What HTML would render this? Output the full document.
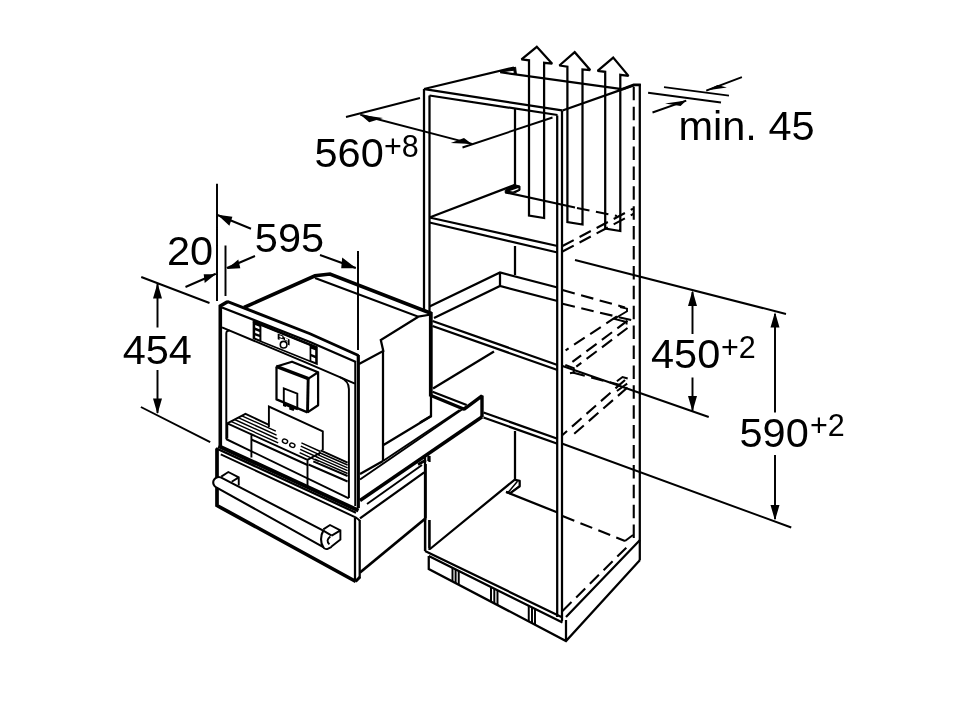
<!DOCTYPE html>
<html><head><meta charset="utf-8">
<style>
html,body{margin:0;padding:0;background:#fff;}
body{width:960px;height:703px;overflow:hidden;}
svg{display:block;will-change:transform;}
.a{fill:none;stroke:#000;stroke-width:1.95;stroke-linecap:butt;stroke-linejoin:miter}
.n{fill:none;stroke:#000;stroke-width:2.25;stroke-linejoin:miter}
.m{fill:none;stroke:#000;stroke-width:2.5;stroke-linejoin:miter}
.k{fill:none;stroke:#000;stroke-width:3.2;stroke-linejoin:miter}
.d{fill:none;stroke:#000;stroke-width:2.1;stroke-dasharray:12.7 6.6}
.f{fill:#000;stroke:none}
text{font-family:"Liberation Sans",sans-serif;fill:#000}
.T{font-size:41.5px}
.S{font-size:30.5px}
</style></head><body>
<svg width="960" height="703" viewBox="0 0 960 703">
<rect width="960" height="703" fill="#fff"/>

<!-- ===== CABINET ===== -->
<g id="cab">
<!-- top face -->
<path class="n" d="M424.4,89.1 L562,110.4 M429.5,95.5 L557.5,115 M424,89 L514,67.5 M500.2,72.2 L622,89.2 M562.5,110.5 L633.7,85.4"/>
<path d="M500,72 L515.6,67.2 L516.4,74.2 L514.2,74 L514,70.2 Z" style="fill:#000;stroke:#000;stroke-width:1"/>
<!-- left verticals upper -->
<path class="n" d="M424,89 V310 M429.5,95.5 V312"/>
<!-- right front verticals -->
<path class="n" d="M557.2,115.5 V616.9 M562,110.4 V621"/>
<!-- right panel -->
<path class="n" d="M639.8,84 V560"/>
<path class="k" d="M622,89.3 L633.7,84.9 L640.8,84.9" style="stroke-width:2.6"/>
<path class="d" d="M633.75,86.8 V541" style="stroke-dasharray:13.5 6.4"/>
<!-- back inner vertical -->
<path class="n" d="M515,109 V185 M515,246 V275 M515,431 V480"/>
<!-- shelf 1 -->
<path class="n" d="M429.5,217.5 L514.5,185.1 M505.4,192.3 L575,207.5 M429.5,217.5 L557.5,246 M429.5,222.5 L557.5,252.5"/>
<path d="M514.3,184.6 L520,186.1 V190.3 L515,192.8 L505.2,192.8 V190.2 Z" style="fill:#000;stroke:#000;stroke-width:1"/><path d="M509.8,191 L518.4,187.9 V189.2 L513,191.6 Z" fill="#fff"/>
<path class="d" d="M577,208 L617,216"/>
<path class="d" d="M562.5,246 L633,208.75 M562.5,251.5 L633.75,213.75"/>
<!-- tray shelf -->
<path class="n" d="M429.5,306.5 L500,272.5 L557.5,287.5 M434,318 L500,286 L557.5,301 M500,272.5 V286"/>
<path class="d" d="M562.5,290 L625,307.5 M562.5,303.75 L635,321"/>
<path class="d" d="M616.9,316.4 L565.6,350.3 M627.5,320.7 L572.4,361.9 M627.5,328 L576.3,366.7"/>
<path class="n" d="M620,307 L627,308.7 V311.3 L614.4,318.8 L626.6,322 V324.6" style="stroke-width:1.9"/>
<!-- shelf 2 -->
<path class="n" d="M432.5,321 L557.5,365 M432.5,326 L557.5,370"/>
<path class="d" d="M572.5,372.5 L620,385"/>
<path class="d" d="M625,380 L562.5,435 M627.5,387.5 L570,437.5"/>
<path class="a" d="M565.3,365 L573.8,368.2 V372.4 L570,373.3 M616.9,381.3 L622.5,377 L627.7,378.5 M616.9,391 L627.2,383.6"/>
<!-- shelf 3 -->
<path class="n" d="M433,388.5 L494,351.5"/>
<path class="n" d="M432.5,391.7 L466.7,405"/>
<path class="k" d="M431,395.5 L464.2,409.2 L482,395.8 V417" style="stroke-linejoin:bevel;stroke-width:3.4"/>
<path class="n" d="M483.5,412.5 L557.5,438.75 M483.5,417.5 L557.5,443.75"/>
<path class="a" d="M508.3,492.3 L517.5,481.2 M510,493.2 L519.6,485.8" style="stroke-width:1.5"/><path class="n" d="M514,479.7 L519.7,480.9 V486.3 L510,493.3 L506,491.9" style="stroke-linejoin:round"/>
<!-- bottom -->
<path class="n" d="M430,549 L514.5,479.8 M506.2,492 L557.5,512.5 M425,551 L562.5,617.5 M428.75,556 L562.5,622.5 M566,617 L640,540"/>
<path class="d" d="M562.5,516 L625,541 M562.5,611 L630,544"/>
<path class="a" d="M625,541 L633,535"/>
<!-- left lower verticals -->
<path class="n" d="M425,457 V551 M429.5,456 V462 M429.5,520 V550"/>
<!-- plinth -->
<path class="n" d="M428.75,556 V569 L566,641 L640,560 M566,620 V641"/>
<path class="a" d="M452.5,568 V581.5 M455.6,569.5 V583 M458.75,571 V584.7 M491,587 V601.7 M494.3,588.7 V603.4 M497.5,590.3 V605 M528.75,605.8 V621.5 M532,607.4 V623.2 M535,609 V624.8"/>
</g>

<!-- ===== AIR ARROWS ===== -->
<g id="air" style="stroke-miterlimit:2">
<path class="n" d="M529,215.5 V60.3 L521.5,59.4 L536.8,46.8 L552.2,63.7 L544.1,62.8 V218 Z"/>
<path class="n" d="M567.4,222 V66.7 L559.4,65.5 L574.7,52.2 L590.2,70.1 L582.5,69.4 V224.5 Z"/>
<path class="n" d="M605.2,228.5 V71.85 L597.6,70.9 L613.2,57.6 L628.5,75.9 L620.3,74.8 V231 Z"/>
</g>

<!-- ===== DIMENSIONS ===== -->
<g id="dims">
<!-- 560 -->
<path class="a" d="M346,117 L420,98 M462.5,147.5 L552.5,117.5 M360.4,114.7 L472,143.9"/>
<path class="f" d="M360.4,114.7 L383,118 L369.2,122.3 Z M472,143.9 L450.8,143.1 L464,138 Z"/>
<!-- min 45 -->
<path class="a" d="M648.1,92.75 L721,102.5 M664,87.1 L729,95.6 M741.9,77.1 L706.25,90.6 M652.5,112.5 L686.25,100.6"/>
<path class="f" d="M706.25,90.6 L717.5,85 L726.9,87.5 Z M686.25,100.6 L665,103.5 L680.6,106 Z"/>
<!-- 450 -->
<path class="a" d="M575,260 L786,314 M562.5,366 L708.75,417 M692.5,292 V334 M692.5,377.5 V410.5"/>
<path class="f" d="M692.5,290.5 L688,306 H697 Z M692.5,411.5 L688,396 H697 Z"/>
<!-- 590 -->
<path class="a" d="M562.5,443.75 L791.25,527.5 M775,314 V412.5 M775,455 V519"/>
<path class="f" d="M775,312 L770.5,327.5 H779.5 Z M775,520.5 L770.5,505 H779.5 Z"/>
<!-- 595 / 20 -->
<path class="a" d="M217,183.75 V301 M225.5,245.5 V296 M358,251 V350 M217.5,215 L251,228.75 M227,268 L255,256 M355.8,268 L320,255 M215.75,273.75 L185.5,287"/>
<path class="f" d="M217.5,214.8 L232.4,216.8 L229.4,225.7 Z M226.9,268.9 L238.3,259.4 L240.3,268.3 Z M356.1,268.3 L342.2,257.4 L341.2,268.3 Z M215.6,274.2 L203.7,274.2 L204.7,283.1 Z"/>
<!-- 454 -->
<path class="a" d="M141.25,277 L209.5,303 M140.9,407 L210.2,442.1 M157.5,284 V327.5 M157.5,370 V413"/>
<path class="f" d="M157.5,283 L153,298.5 H162 Z M157.5,414 L153,398.5 H162 Z"/>
</g>

<!-- ===== TEXT ===== -->
<g id="txt">
<text class="T" x="314.5" y="166.5">560</text><text class="S" x="384" y="156.5">+8</text>
<text class="T" x="678.5" y="139.6">min. 45</text>
<text class="T" x="651" y="367.5">450</text><text class="S" x="721" y="357.5">+2</text>
<text class="T" x="739.5" y="446.5">590</text><text class="S" x="810" y="436">+2</text>
<text class="T" x="167" y="264.6">20</text>
<text class="T" x="254.8" y="252">595</text>
<text class="T" x="122.7" y="363.5">454</text>
</g>

<!-- ===== COFFEE MACHINE ===== -->
<g id="machine">
<!-- top surface -->
<path class="k" d="M244,307.5 L315,275.8 L330,274 L431.5,313.5" style="stroke-width:3.6"/>
<path class="n" d="M315,278 L418.3,316.7 L431,314.5 M418.3,316.7 L380.8,340 L383.3,351 L359,364"/>
<!-- cabinet left edge thick (behind machine) -->
<path class="k" d="M430.8,312 V396.5" style="stroke-width:3.8"/>
<path class="n" d="M431,396 V416 L420,422.5"/>
<!-- side panel -->
<path class="n" d="M383,351 V461 M383.5,445 L431.5,416 M360,474 L383,461"/><path class="a" d="M383,461 L459.7,410"/>
<!-- front face -->
<path class="k" d="M220.3,447 V306 L227.5,301.7" style="stroke-width:3.6"/>
<path class="m" d="M227,301.3 L310,333.75 L358.5,355.5" style="stroke-width:2.9"/>
<path class="n" d="M222,307.5 L310,342 L356,362" style="stroke-width:2.4"/>
<path class="a" d="M222,327.4 L305,362.1 L354.9,383.6"/><path class="a" d="M226.3,439 V333.5 Q226.3,330.5 229.5,330.6 M340,377.2 Q348.9,381 348.9,389 V498"/>
<path class="k" d="M358.3,355 V508"/>
<path class="n" d="M355.2,361.5 V506" style="stroke-width:1.9"/>
<path class="k" d="M218.5,446 L358.5,510.5" style="stroke-width:4.1"/>
<path class="a" d="M226,439 L348.8,498.3"/>
<!-- control panel -->
<path d="M253.5,321.7 L316.9,347.5 V364.1 L253.5,338.4 Z" style="fill:#fff;stroke:#000;stroke-width:1.7"/>
<path class="m" d="M253.2,321.6 L317.2,347.6" style="stroke-width:2.6"/>
<path class="f" d="M253.5,321.7 L261.4,324.9 V341.6 L253.5,338.4 Z M309.6,344.5 L316.9,347.5 V364.1 L309.6,361.1 Z"/>
<path fill="#fff" d="M255.2,325 L259.4,326.7 V329.3 L255.2,327.6 Z M255.2,330.2 L259.4,331.9 V334.6 L255.2,332.9 Z M255.2,335.4 L259.4,337.1 V339.5 L255.2,337.8 Z M311.3,348.7 L315.2,350.3 V355.6 L311.3,354 Z M311.3,356.6 L315.2,358.2 V362 L311.3,360.4 Z"/>
<path class="f" d="M277.7,333.4 L283.6,335.8 L283.6,337 L289.6,339.4 V345.5 L287.8,344.8 V341.6 L284.3,340.2 L283.8,339.6 L279.5,338.3 V340 L277.7,339.3 Z"/>
<path fill="#fff" d="M279.5,335.2 L282.3,336.3 V338.2 L279.5,337.1 Z M285,337.8 L287.9,338.9 V340.9 L285,339.8 Z"/>
<circle cx="283.6" cy="344.7" r="3.3" style="fill:#fff;stroke:#000;stroke-width:1.6"/>
<!-- spout -->
<path class="n" d="M276.5,366.5 V399.4 L307.5,412.4 M276.5,366.5 L292,361.7 L318.1,372.3 L308.4,378.6 M318.1,372.3 V405.2 L307.5,412.4" style="stroke-linejoin:round"/>
<path class="k" d="M276.2,366.4 L308.4,378.6" style="stroke-width:3.3"/>
<path class="k" d="M308.2,378 L307.5,412.6" style="stroke-width:2.9"/>
<path class="n" d="M283.8,402.3 V388.3 L297.3,393.6 V408.1" style="stroke-width:1.9"/>
<path class="f" d="M283,402 L298,408.4 L297.6,410.3 L294.3,409.3 L293.6,411 L289.2,409.6 L289.3,407.6 L286.3,406.3 L285.6,407 L283,406 Z"/>
<!-- back plate -->
<path class="n" d="M268.9,427 V406.6 L322.8,431.4 V450.3" style="stroke-width:1.9"/>
<!-- drip tray -->
<path class="n" d="M227.3,438.6 V423.3 L245.5,413.9 L268.9,424.8 M227.3,423.3 L251.4,434.3 M251.4,457.5 V434.3 L307.5,459.8 V486.5 M307.5,459.8 L320.6,452.5 M320.6,450.3 L347.6,462.7" style="stroke-width:1.9"/>
<path class="a" d="M308.5,464.5 L347.6,481.5 M313.3,461.3 L347.6,476 M251.4,439.5 L307.5,465"/>
<path class="a" style="stroke-width:1.4" d="M230.9,421.4 L278.2,442.9 M299.6,452.7 L318.6,461.3 M234.6,419.5 L277.4,439.0 M300.2,449.4 L319.2,458.0 M238.2,417.7 L276.6,435.1 M300.8,446.1 L319.8,454.8 M241.9,415.8 L275.8,431.2 M301.4,442.9 L320.4,451.5 M319.1,452.5 L347.6,465.0 M317.7,454.7 L347.6,467.9 M316.2,456.9 L347.6,470.7 M314.8,459.1 L347.6,473.5"/>
<ellipse class="a" cx="285" cy="441.2" rx="2.7" ry="2" transform="rotate(22 285 441.2)" style="stroke-width:1.4"/>
<ellipse class="a" cx="292.3" cy="445.2" rx="2.7" ry="2" transform="rotate(22 292.3 445.2)" style="stroke-width:1.4"/>
</g>

<!-- ===== DRAWER ===== -->
<g id="drawer">
<path class="k" d="M217,448.5 V505.5 L355.8,581.5" style="stroke-width:3.7"/>
<path class="m" d="M216,448.2 L356,512.7" style="stroke-width:2.3"/><path class="a" d="M220.8,454.3 L356,517.5 L359.7,520.5"/>
<path class="n" d="M355,518 V580 M359.7,520 V578"/>
<path class="k" d="M355.5,581.5 L360,577" style="stroke-width:3"/>
<path class="n" d="M360,518.3 L424.2,472.3"/>
<path class="k" d="M360,572.5 L426,518" style="stroke-width:2.8"/>
<!-- handle -->
<path class="n" d="M221.25,476.6 L228.3,472 L238.75,477.4 V485.5 M231.7,481.8 L238.75,477.4" style="stroke-width:1.9"/>
<path class="n" d="M323.3,529.4 L330,525 L340.4,530.4 V539.6 L331.2,546.8 M331.7,535.6 L340.4,530.4" style="stroke-width:1.9"/>
<path d="M220.8,477.4 L323.3,530.6 C320.3,535.5 320.3,543.5 323.3,547.1 L216.7,487.6 A5.1,5.1 0 0 1 220.8,477.4 Z" style="fill:#fff;stroke:#000;stroke-width:2.1;stroke-linejoin:round"/>
<path class="n" d="M322.8,546.6 Q324.5,549.8 327.2,549 L331.7,546.8 M330.3,536.4 Q325.3,540.5 329.4,544.4 M323.3,530.6 L331.7,535.6" style="stroke-width:1.9"/>
</g>

<!-- ===== PULL-OUT BEAM ===== -->
<g id="beam">
<path class="a" d="M360,479.5 L466,406.8"/>
<path class="k" d="M360,500.5 L482.2,416.8" style="stroke-width:3.5"/>
<path class="a" d="M367,504 L422,465"/>
<path class="m" d="M425.5,464 V518 M418,464.5 L426,460" style="stroke-width:2.7"/><path class="a" d="M428.3,455.4 V461"/>
<path class="a" d="M425.3,518 V550 M429.3,520 V548"/>
</g>

</svg>
</body></html>
